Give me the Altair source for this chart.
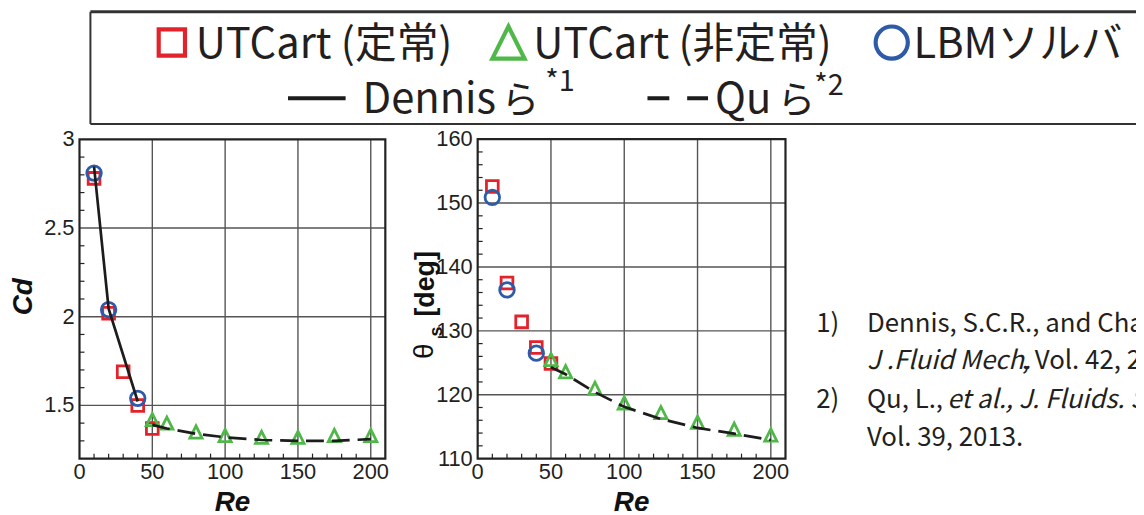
import altair as alt
import pandas as pd

# ---------------- data ----------------
series_names = ["UTCart (定常)", "UTCart (非定常)", "LBMソルバ", "Dennis", "Qu"]

re_steady = [10, 20, 30, 40, 50]
cd_steady = [2.78, 2.02, 1.69, 1.50, 1.37]
theta_steady = [152.6, 137.5, 131.4, 127.4, 124.9]

re_unsteady = [50, 60, 80, 100, 125, 150, 175, 200]
cd_unsteady = [1.42, 1.40, 1.35, 1.33, 1.32, 1.32, 1.33, 1.33]
theta_unsteady = [125.5, 123.6, 121.0, 118.7, 117.2, 115.7, 114.6, 113.7]

re_lbm = [10, 20, 40]
cd_lbm = [2.81, 2.04, 1.54]
theta_lbm = [150.9, 136.4, 126.5]

re_dennis = [10, 20, 40]
cd_dennis = [2.846, 2.045, 1.522]

re_qu = [50, 60, 80, 100, 125, 150, 175, 200]
cd_qu = [1.39, 1.37, 1.34, 1.32, 1.305, 1.30, 1.30, 1.31]
theta_qu = [124.3, 123.2, 120.4, 118.1, 116.2, 114.8, 113.9, 112.9]

# axis ticks / limits / tick labels
re_lim = [0, 210]
cd_lim = [1.2, 3.0]
theta_lim = [110, 160]
re_ticks = [0, 50, 100, 150, 200]
re_tick_labels = ["0", "50", "100", "150", "200"]
re_grid = [50, 100, 150, 200]
re_minor = [10, 20, 30, 40, 60, 70, 80, 90, 110, 120, 130, 140, 160, 170, 180, 190]
cd_ticks = [1.5, 2.0, 2.5, 3.0]
cd_tick_labels = ["1.5", "2", "2.5", "3"]
cd_grid = [1.5, 2.0, 2.5]
cd_minor = [1.3, 1.4, 1.6, 1.7, 1.8, 1.9, 2.1, 2.2, 2.3, 2.4, 2.6, 2.7, 2.8, 2.9]
theta_ticks = [110, 120, 130, 140, 150, 160]
theta_tick_labels = ["110", "120", "130", "140", "150", "160"]
theta_grid = [120, 130, 140, 150]
theta_minor = [112, 114, 116, 118, 122, 124, 126, 128, 132, 134, 136, 138,
               142, 144, 146, 148, 152, 154, 156, 158]

# ---------------- styles ----------------
RED = "#e3232b"
GREEN = "#4fb848"
BLUE = "#2e5ba8"
BLACK = "#1c1c1c"
FRAME = "#222222"
GRID = "#555555"
TEXT = "#231f20"
SANS = "Liberation Sans"
JP = "Noto Sans CJK JP"
TRI = "M0,-1L1,1L-1,1Z"
DASH = [18, 8]

one = pd.DataFrame({"k": [0]})


def panel(xrange, yrange, ylim, y_ticks, y_labels, y_grid, y_minor, pts, lines):
    xs = alt.Scale(domain=re_lim, range=xrange, nice=False, zero=False)
    ys = alt.Scale(domain=ylim, range=yrange, nice=False, zero=False)

    def X(f):
        return alt.X(f, type="quantitative", scale=xs, axis=None)

    def Y(f):
        return alt.Y(f, type="quantitative", scale=ys, axis=None)

    layers = []
    vg = pd.DataFrame({"v": re_grid, "y0": ylim[0], "y1": ylim[1]})
    layers.append(alt.Chart(vg).mark_rule(color=GRID, strokeWidth=1.4).encode(
        x=X("v"), y=Y("y0"), y2="y1"))
    hg = pd.DataFrame({"v": y_grid, "x0": re_lim[0], "x1": re_lim[1]})
    layers.append(alt.Chart(hg).mark_rule(color=GRID, strokeWidth=1.4).encode(
        y=Y("v"), x=X("x0"), x2="x1"))
    xm = pd.DataFrame({"v": re_minor, "y0": ylim[0]})
    layers.append(alt.Chart(xm).mark_rule(color=FRAME, strokeWidth=1.2, y2Offset=-5).encode(
        x=X("v"), y=Y("y0"), y2="y0"))
    ym = pd.DataFrame({"v": y_minor, "x0": re_lim[0]})
    layers.append(alt.Chart(ym).mark_rule(color=FRAME, strokeWidth=1.2, x2Offset=5).encode(
        y=Y("v"), x=X("x0"), x2="x0"))
    fr = pd.DataFrame({"x0": [re_lim[0]], "x1": [re_lim[1]], "y0": [ylim[0]], "y1": [ylim[1]]})
    layers.append(alt.Chart(fr).mark_rect(fill="transparent", stroke=FRAME, strokeWidth=2.2).encode(
        x=X("x0"), x2="x1", y=Y("y0"), y2="y1"))
    # tick labels, positioned through the scales
    xl = pd.DataFrame({"v": re_ticks, "lab": re_tick_labels, "y0": ylim[0]})
    layers.append(alt.Chart(xl).mark_text(font=SANS, fontSize=22, color=TEXT, align="center",
                                          baseline="top", dy=4).encode(
        x=X("v"), y=Y("y0"), text="lab:N"))
    yl = pd.DataFrame({"v": y_ticks, "lab": y_labels, "x0": re_lim[0]})
    layers.append(alt.Chart(yl).mark_text(font=SANS, fontSize=22, color=TEXT, align="right",
                                          baseline="middle", dx=-5).encode(
        x=X("x0"), y=Y("v"), text="lab:N"))
    for (xv, yv, shape, color, size) in pts:
        d = pd.DataFrame({"re": xv, "v": yv})
        layers.append(alt.Chart(d).mark_point(shape=shape, filled=False, size=size, strokeWidth=2.8,
                                              color=color, opacity=1).encode(x=X("re"), y=Y("v")))
    for (xv, yv, dash) in lines:
        d = pd.DataFrame({"re": xv, "v": yv})
        kw = dict(color=BLACK, strokeWidth=2.7)
        if dash:
            kw["strokeDash"] = dash
        layers.append(alt.Chart(d).mark_line(**kw).encode(x=X("re"), y=Y("v")))
    return alt.layer(*layers)


left = panel([72, 380], [452, 130.5], cd_lim, cd_ticks, cd_tick_labels, cd_grid, cd_minor,
             [(re_steady, cd_steady, "square", RED, 140),
              (re_unsteady, cd_unsteady, TRI, GREEN, 150),
              (re_lbm, cd_lbm, "circle", BLUE, 215)],
             [(re_dennis, cd_dennis, None), (re_qu, cd_qu, DASH)])

right = panel([473, 783], [452, 130.3], theta_lim, theta_ticks, theta_tick_labels, theta_grid,
              theta_minor,
              [(re_steady, theta_steady, "square", RED, 140),
               (re_unsteady, theta_unsteady, TRI, GREEN, 150),
               (re_lbm, theta_lbm, "circle", BLUE, 215)],
              [(re_qu, theta_qu, DASH)])


def txt(s, x, y, size, font=JP, style="normal", weight="normal", align="left",
        baseline="alphabetic", angle=0, color=TEXT):
    return alt.Chart(one).mark_text(text=s, font=font, fontSize=size, fontStyle=style,
                                    fontWeight=weight, align=align, baseline=baseline,
                                    angle=angle, color=color).encode(x=alt.value(x), y=alt.value(y))


def sym(shape, color, size, x, y):
    return alt.Chart(one).mark_point(shape=shape, filled=False, size=size, strokeWidth=4.2,
                                     color=color, opacity=1).encode(x=alt.value(x), y=alt.value(y))


def hline(x1, x2, y, color, width, dash=None):
    kw = dict(color=color, strokeWidth=width)
    if dash:
        kw["strokeDash"] = dash
    return alt.Chart(one).mark_rule(**kw).encode(x=alt.value(x1), x2=alt.value(x2), y=alt.value(y))


LEG = 42
decor = [
    # legend frame
    hline(83, 1200, 2, "#333333", 3),
    hline(83, 1200, 115, "#333333", 2),
    alt.Chart(one).mark_rule(color="#333333", strokeWidth=2).encode(
        x=alt.value(83), y=alt.value(2), y2=alt.value(115)),
    # legend row 1
    sym("square", RED, 700, 165, 33),
    txt(series_names[0], 189, 49, LEG),
    sym(TRI, GREEN, 1050, 504, 33),
    txt(series_names[1], 529, 49, LEG),
    sym("circle", BLUE, 1050, 890, 33),
    txt(series_names[2], 912, 49, LEG),
    # legend row 2
    hline(282, 340, 89, BLACK, 4),
    txt(series_names[3], 357, 104, LEG),
    txt("ら", 497, 104, 38),
    txt("*1", 541, 82, 29),
    hline(644, 705, 89, BLACK, 4, [22, 18]),
    txt(series_names[4], 712, 104, LEG),
    txt("ら", 775, 104, 38),
    txt("*2", 812, 86, 29),
    # axis titles
    txt("Cd", 16, 289, 28, font=SANS, style="italic", weight="bold", align="center",
        baseline="middle", angle=270, color="#111111"),
    txt("Re", 226, 505, 28, font=SANS, style="italic", weight="bold", align="center",
        color="#111111"),
    txt("Re", 628, 505, 28, font=SANS, style="italic", weight="bold", align="center",
        color="#111111"),
    txt("θ", 420, 344, 28, font=SANS, align="center", baseline="middle", angle=270,
        color="#111111"),
    txt("s", 432, 324, 18, font=SANS, weight="bold", align="center", baseline="middle",
        angle=270, color="#111111"),
    txt("[deg]", 421, 276, 27, font=SANS, weight="bold", align="center", baseline="middle",
        angle=270, color="#111111"),
    # references
    txt("1)", 814, 324, 26),
    txt("Dennis, S.C.R., and Chang, G.-Z.,", 865, 324, 26),
    txt("J .Fluid Mech.", 865, 362, 26, style="italic"),
    txt(", Vol. 42, 2", 1021, 362, 26),
    txt("2)", 814, 401, 26),
    txt("Qu, L.,", 865, 401, 26),
    txt("et al., J. Fluids. Struct.,", 946, 401, 26, style="italic"),
    txt("Vol. 39, 2013.", 865, 439, 26),
]

chart = alt.layer(left, right, *decor).resolve_scale(
    x="independent", y="independent"
).properties(
    width=1136, height=507, padding=0, autosize=alt.AutoSizeParams(type="none")
).configure_view(strokeWidth=0)

chart.save("out.html", embed_options={"renderer": "svg", "actions": False})
